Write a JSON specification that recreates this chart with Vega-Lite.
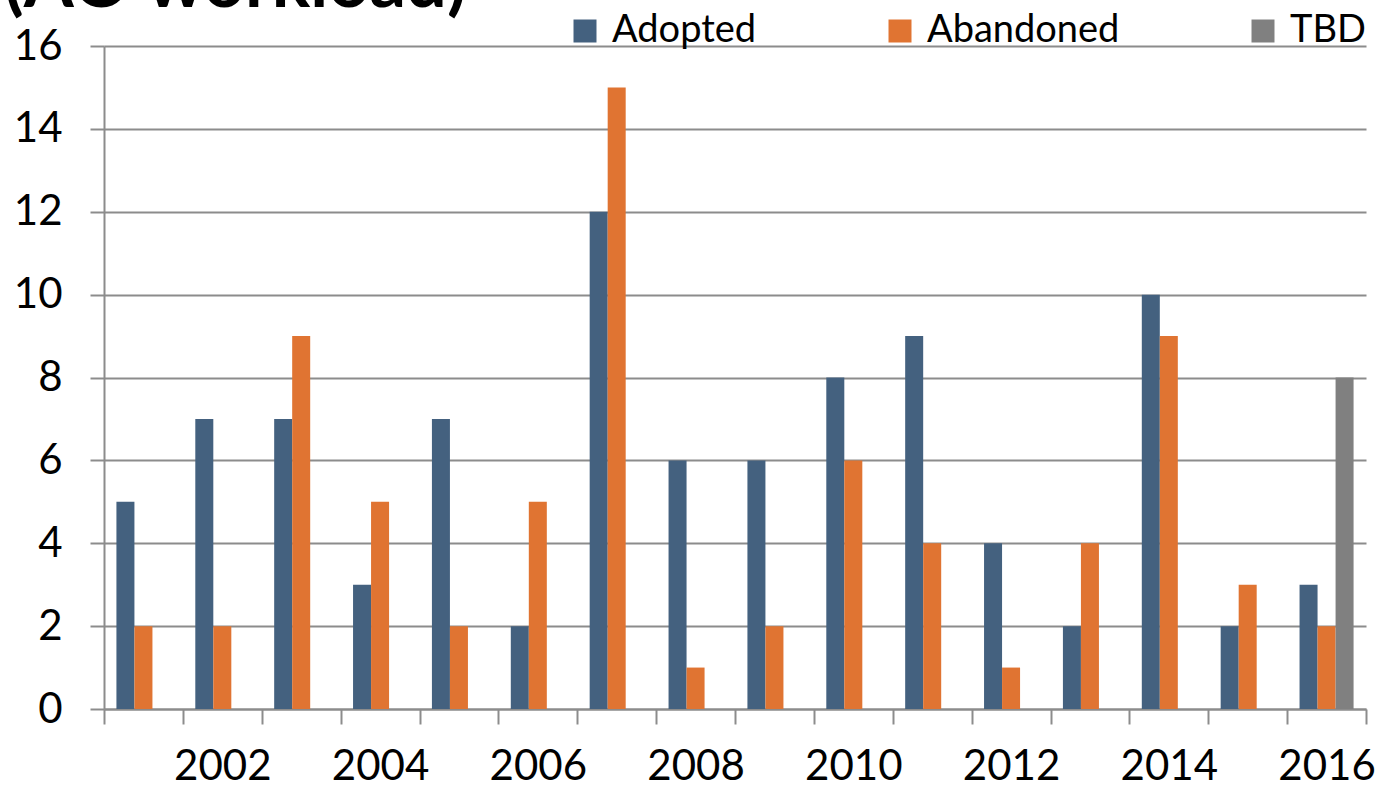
{
  "$schema": "https://vega.github.io/schema/vega-lite/v6.json",
  "width": 1262,
  "height": 663,
  "autosize": {"type": "none"},
  "padding": {"left": 104, "top": 46, "right": 13, "bottom": 80},
  "background": "white",
  "title": {
    "text": "(AO workload)",
    "anchor": "start",
    "frame": "group",
    "font": "Lato",
    "fontWeight": "bold",
    "fontSize": 72,
    "color": "black",
    "baseline": "alphabetic",
    "offset": 10,
    "dx": -100,
    "dy": 77
  },
  "data": {
    "values": [
      {"year": "2001", "series": "Adopted", "value": 5},
      {"year": "2001", "series": "Abandoned", "value": 2},
      {"year": "2002", "series": "Adopted", "value": 7},
      {"year": "2002", "series": "Abandoned", "value": 2},
      {"year": "2003", "series": "Adopted", "value": 7},
      {"year": "2003", "series": "Abandoned", "value": 9},
      {"year": "2004", "series": "Adopted", "value": 3},
      {"year": "2004", "series": "Abandoned", "value": 5},
      {"year": "2005", "series": "Adopted", "value": 7},
      {"year": "2005", "series": "Abandoned", "value": 2},
      {"year": "2006", "series": "Adopted", "value": 2},
      {"year": "2006", "series": "Abandoned", "value": 5},
      {"year": "2007", "series": "Adopted", "value": 12},
      {"year": "2007", "series": "Abandoned", "value": 15},
      {"year": "2008", "series": "Adopted", "value": 6},
      {"year": "2008", "series": "Abandoned", "value": 1},
      {"year": "2009", "series": "Adopted", "value": 6},
      {"year": "2009", "series": "Abandoned", "value": 2},
      {"year": "2010", "series": "Adopted", "value": 8},
      {"year": "2010", "series": "Abandoned", "value": 6},
      {"year": "2011", "series": "Adopted", "value": 9},
      {"year": "2011", "series": "Abandoned", "value": 4},
      {"year": "2012", "series": "Adopted", "value": 4},
      {"year": "2012", "series": "Abandoned", "value": 1},
      {"year": "2013", "series": "Adopted", "value": 2},
      {"year": "2013", "series": "Abandoned", "value": 4},
      {"year": "2014", "series": "Adopted", "value": 10},
      {"year": "2014", "series": "Abandoned", "value": 9},
      {"year": "2015", "series": "Adopted", "value": 2},
      {"year": "2015", "series": "Abandoned", "value": 3},
      {"year": "2016", "series": "Adopted", "value": 3},
      {"year": "2016", "series": "Abandoned", "value": 2},
      {"year": "2016", "series": "TBD", "value": 8}
    ]
  },
  "mark": {"type": "bar"},
  "encoding": {
    "x": {
      "field": "year",
      "type": "ordinal",
      "scale": {"paddingInner": 0, "paddingOuter": 0},
      "axis": {
        "title": null,
        "labelAngle": 0,
        "labelExpr": "parseInt(datum.value) % 2 == 0 ? datum.label : ''",
        "tickBand": "extent",
        "tickSize": 15,
        "tickColor": "#8c8c8c",
        "tickWidth": 2,
        "domainColor": "#8c8c8c",
        "domainWidth": 2,
        "labelFont": "Lato",
        "labelFontSize": 42,
        "labelColor": "black",
        "labelPadding": 22,
        "grid": false
      }
    },
    "xOffset": {
      "field": "series",
      "type": "nominal",
      "scale": {"domain": ["Adopted", "Abandoned", "TBD"], "paddingInner": 0, "paddingOuter": 0.69}
    },
    "y": {
      "field": "value",
      "type": "quantitative",
      "scale": {"domain": [0, 16], "nice": false},
      "axis": {
        "title": null,
        "values": [0, 2, 4, 6, 8, 10, 12, 14, 16],
        "grid": true,
        "gridColor": "#8c8c8c",
        "gridWidth": 2,
        "tickSize": 14,
        "tickColor": "#8c8c8c",
        "tickWidth": 2,
        "domainColor": "#8c8c8c",
        "domainWidth": 2,
        "labelFont": "Lato",
        "labelFontSize": 42,
        "labelColor": "black",
        "labelPadding": 28
      }
    },
    "color": {
      "field": "series",
      "type": "nominal",
      "scale": {"domain": ["Adopted", "Abandoned", "TBD"], "range": ["#44617f", "#e07432", "#808080"]},
      "legend": {
        "title": null,
        "orient": "none",
        "direction": "horizontal",
        "legendX": 462,
        "legendY": -34,
        "symbolType": "square",
        "symbolSize": 529,
        "symbolStrokeWidth": 0,
        "labelFont": "Lato",
        "labelFontSize": 38,
        "labelColor": "black",
        "labelOffset": 8,
        "labelLimit": 0,
        "columnPadding": 124
      }
    }
  },
  "config": {"view": {"stroke": null}}
}
